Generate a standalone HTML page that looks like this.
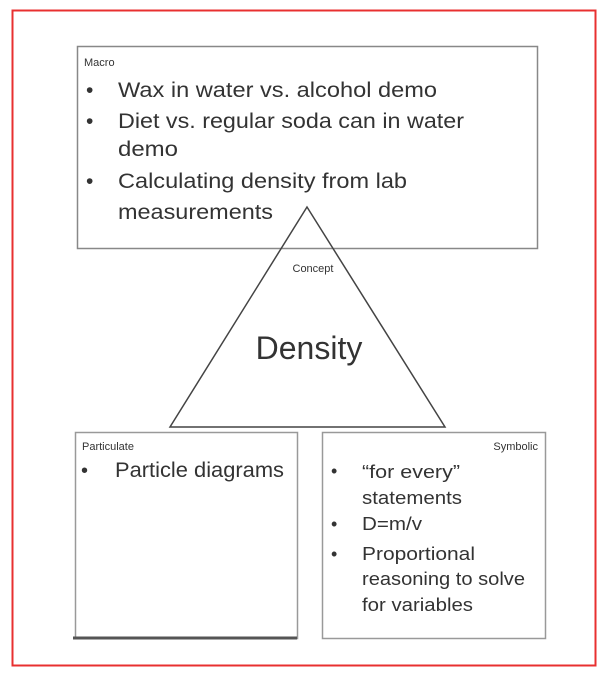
<!DOCTYPE html>
<html><head><style>
body{margin:0;width:604px;height:680px;background:#fff;overflow:hidden}
svg text{font-family:"Liberation Sans",sans-serif;fill:#333}
</style></head><body>
<svg width="604" height="680" viewBox="0 0 604 680">
<rect x="12.5" y="10.5" width="583" height="655" fill="none" stroke="#e83030" stroke-width="2"/>
<rect x="77.5" y="46.5" width="460" height="202" fill="#fff" stroke="#888" stroke-width="1.5"/>
<polygon points="307,207 170,427 445,427" fill="none" stroke="#444" stroke-width="1.5"/>
<rect x="75.5" y="432.5" width="222" height="206" fill="#fff" stroke="#999" stroke-width="1.5"/>
<line x1="73" y1="638" x2="297" y2="638" stroke="#555" stroke-width="3"/>
<rect x="322.5" y="432.5" width="223" height="206" fill="#fff" stroke="#999" stroke-width="1.5"/>
<text x="84" y="66" font-size="11">Macro</text>
<g font-size="21" lengthAdjust="spacingAndGlyphs">
<text x="86" y="97">•</text><text x="118" y="97" textLength="319" lengthAdjust="spacingAndGlyphs">Wax in water vs. alcohol demo</text>
<text x="86" y="128">•</text><text x="118" y="128" textLength="346" lengthAdjust="spacingAndGlyphs">Diet vs. regular soda can in water</text>
<text x="118" y="156" textLength="60" lengthAdjust="spacingAndGlyphs">demo</text>
<text x="86" y="188">•</text><text x="118" y="188" textLength="289" lengthAdjust="spacingAndGlyphs">Calculating density from lab</text>
<text x="118" y="219" textLength="155" lengthAdjust="spacingAndGlyphs">measurements</text>
</g>
<text x="313" y="272" font-size="11" text-anchor="middle">Concept</text>
<text x="309" y="359" font-size="32" text-anchor="middle" fill="#111">Density</text>
<text x="82" y="450" font-size="11">Particulate</text>
<text x="81" y="477" font-size="20">•</text><text x="115" y="477" font-size="21" textLength="169" lengthAdjust="spacingAndGlyphs">Particle diagrams</text>
<text x="538" y="450" font-size="11" text-anchor="end">Symbolic</text>
<g font-size="18">
<text x="331" y="477">•</text><text x="362" y="478" textLength="98" lengthAdjust="spacingAndGlyphs">“for every”</text>
<text x="362" y="504" textLength="100" lengthAdjust="spacingAndGlyphs">statements</text>
<text x="331" y="530">•</text><text x="362" y="530" textLength="60" lengthAdjust="spacingAndGlyphs">D=m/v</text>
<text x="331" y="560">•</text><text x="362" y="560" textLength="113" lengthAdjust="spacingAndGlyphs">Proportional</text>
<text x="362" y="585" textLength="163" lengthAdjust="spacingAndGlyphs">reasoning to solve</text>
<text x="362" y="611" textLength="111" lengthAdjust="spacingAndGlyphs">for variables</text>
</g>
</svg>
</body></html>
